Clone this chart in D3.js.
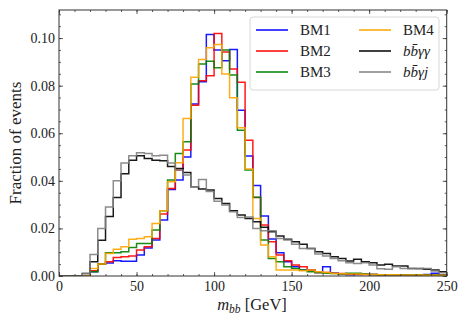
<!DOCTYPE html>
<html>
<head>
<meta charset="utf-8">
<script src="https://cdn.jsdelivr.net/npm/d3@7"></script>
<style>
  body { margin: 0; background: #fff; }
  text { font-family: "Liberation Serif", "DejaVu Serif", serif; fill: #222; }
</style>
</head>
<body>
<div class="main"></div>
<script>
// bins of 5 GeV from 0 to 250
const binLow = d3.range(0, 250, 5);

const bm1 = [0, 0, 0, 0, 0.0018, 0.005, 0.0055, 0.0064, 0.0062, 0.0062,
  0.0088, 0.0118, 0.0151, 0.0235, 0.0364, 0.0403, 0.050, 0.0723, 0.0816, 0.1015,
  0.095, 0.0905, 0.0952, 0.0697, 0.0504, 0.038, 0.0252, 0.0156, 0.0098, 0.006,
  0.0039, 0.0025, 0.0025, 0.0015, 0.0039, 0.0012, 0.0008, 0.0005, 0.0006, 0.0008,
  0.0006, 0.0005, 0.0005, 0.0004, 0.0005, 0.0004, 0.0005, 0.0006, 0.0012, 0.0005];
const bm2 = [0, 0, 0, 0, 0.0022, 0.005, 0.006, 0.0078, 0.0081, 0.0084,
  0.0109, 0.0123, 0.0158, 0.0261, 0.0368, 0.0445, 0.053, 0.0718, 0.0821, 0.0842,
  0.1019, 0.0942, 0.087, 0.0814, 0.0571, 0.033, 0.0214, 0.0144, 0.0088, 0.0064,
  0.0046, 0.0039, 0.0025, 0.0015, 0.0015, 0.0012, 0.001, 0.0008, 0.0007, 0.0006,
  0.0006, 0.0005, 0.0005, 0.0005, 0.0004, 0.0004, 0.0004, 0.0004, 0.0003, 0.0003];
const bm3 = [0, 0, 0, 0, 0.0018, 0.005, 0.0098, 0.0098, 0.0102, 0.012,
  0.0137, 0.0137, 0.0193, 0.0274, 0.0403, 0.0515, 0.0564, 0.0807, 0.0891, 0.0903,
  0.0875, 0.095, 0.0845, 0.0613, 0.0445, 0.0331, 0.0151, 0.0074, 0.006, 0.0039,
  0.0032, 0.0025, 0.0018, 0.0015, 0.0012, 0.001, 0.0008, 0.0012, 0.0012, 0.0008,
  0.0006, 0.0005, 0.0005, 0.0005, 0.0004, 0.0004, 0.0005, 0.0004, 0.0004, 0.0003];
const bm4 = [0, 0, 0, 0, 0.0032, 0.005, 0.0095, 0.0112, 0.0123, 0.0154,
  0.0158, 0.0165, 0.0221, 0.0274, 0.0396, 0.0476, 0.0662, 0.0835, 0.091, 0.0959,
  0.0973, 0.0849, 0.0749, 0.0623, 0.045, 0.0242, 0.013, 0.0081, 0.0025, 0.0025,
  0.0025, 0.0022, 0.0025, 0.0018, 0.0015, 0.001, 0.0009, 0.0008, 0.0008, 0.0007,
  0.0006, 0.0005, 0.0005, 0.0005, 0.0004, 0.0004, 0.0004, 0.0003, 0.0003, 0.0003];
const bbaa = [0, 0, 0, 0.001, 0.006, 0.015, 0.025, 0.033, 0.043, 0.0487,
  0.0505, 0.0494, 0.0487, 0.0484, 0.046, 0.0452, 0.0435, 0.0375, 0.0366, 0.0361,
  0.0326, 0.0305, 0.0274, 0.0256, 0.0242, 0.0228, 0.0205, 0.0186, 0.0168, 0.0154,
  0.0144, 0.0133, 0.0116, 0.0102, 0.0095, 0.0081, 0.0074, 0.0063, 0.007, 0.006,
  0.0056, 0.0046, 0.0049, 0.0042, 0.0042, 0.0032, 0.0032, 0.0028, 0.0025, 0.0018];
const bbaj = [0, 0, 0, 0.001, 0.009, 0.020, 0.029, 0.040, 0.0475, 0.0505,
  0.0518, 0.0515, 0.0505, 0.0508, 0.0475, 0.0445, 0.0425, 0.0375, 0.0406, 0.0355,
  0.0314, 0.0298, 0.027, 0.0246, 0.0248, 0.020, 0.019, 0.019, 0.0158, 0.0151,
  0.0133, 0.0116, 0.0116, 0.0092, 0.0084, 0.0074, 0.0064, 0.0056, 0.0053, 0.0056,
  0.0046, 0.003, 0.0028, 0.0039, 0.0032, 0.0032, 0.003, 0.0032, 0.0021, 0.0014];

const seriesNames = ["BM1", "BM2", "BM3", "BM4", "bbaa", "bbaj"];
const seriesColors = ["#0000ff", "#ff0000", "#008000", "#ffa500", "#000000", "#808080"];
const seriesValues = [bm1, bm2, bm3, bm4, bbaa, bbaj];

const xTicks = [0, 50, 100, 150, 200, 250];
const yTicks = [0, 0.02, 0.04, 0.06, 0.08, 0.10];

const width = 468, height = 325;
const plotLeft = 59, plotRight = 446.7, plotTop = 10, plotBottom = 276;

const svg = d3.select(".main").append("svg")
  .attr("width", width)
  .attr("height", height);

const x = d3.scaleLinear().domain([0, 250]).range([plotLeft, plotRight]);
const y = d3.scaleLinear().domain([0, 0.1118]).range([plotBottom, plotTop]);

svg.append("defs").append("clipPath").attr("id", "plot-clip")
  .append("rect")
  .attr("x", plotLeft).attr("y", plotTop)
  .attr("width", plotRight - plotLeft).attr("height", plotBottom - plotTop);

// step outline like matplotlib histtype='step'
function stepPoints(vals) {
  let pts = [[0, 0]];
  vals.forEach((v, i) => {
    pts.push([binLow[i], v]);
    pts.push([binLow[i] + 5, v]);
  });
  pts.push([250, 0]);
  return pts;
}

const line = d3.line()
  .x(d => x(d[0]))
  .y(d => y(d[1]));

const plot = svg.append("g").attr("clip-path", "url(#plot-clip)");

seriesValues.forEach((vals, i) => {
  plot.append("path")
    .attr("d", line(stepPoints(vals)))
    .attr("fill", "none")
    .attr("stroke", seriesColors[i])
    .attr("stroke-width", 1.5)
    .attr("stroke-opacity", 0.9);
});

// axes with inward ticks on all sides
const axisColor = "#333";
function styleAxis(g) {
  g.select(".domain").remove();
  g.selectAll("line").attr("stroke", axisColor).attr("stroke-width", 0.8);
  g.selectAll("text").attr("font-size", 14).attr("fill", "#222")
    .attr("font-family", "Liberation Serif, serif");
}

const xMinor = d3.range(0, 251, 10);
const yMinor = d3.range(0, 0.111, 0.005);

svg.append("g").attr("transform", `translate(0,${plotBottom})`)
  .call(d3.axisBottom(x).tickValues(xTicks).tickSize(-4).tickPadding(5).tickFormat(d3.format("d")))
  .call(styleAxis);
svg.append("g").attr("transform", `translate(0,${plotBottom})`)
  .call(d3.axisBottom(x).tickValues(xMinor).tickSize(-2).tickFormat(""))
  .call(styleAxis);
svg.append("g").attr("transform", `translate(0,${plotTop})`)
  .call(d3.axisTop(x).tickValues(xTicks).tickSize(-4).tickFormat(""))
  .call(styleAxis);
svg.append("g").attr("transform", `translate(0,${plotTop})`)
  .call(d3.axisTop(x).tickValues(xMinor).tickSize(-2).tickFormat(""))
  .call(styleAxis);

svg.append("g").attr("transform", `translate(${plotLeft},0)`)
  .call(d3.axisLeft(y).tickValues(yTicks).tickSize(-4).tickPadding(4).tickFormat(d3.format(".2f")))
  .call(styleAxis);
svg.append("g").attr("transform", `translate(${plotLeft},0)`)
  .call(d3.axisLeft(y).tickValues(yMinor).tickSize(-2).tickFormat(""))
  .call(styleAxis);
svg.append("g").attr("transform", `translate(${plotRight},0)`)
  .call(d3.axisRight(y).tickValues(yTicks).tickSize(-4).tickFormat(""))
  .call(styleAxis);
svg.append("g").attr("transform", `translate(${plotRight},0)`)
  .call(d3.axisRight(y).tickValues(yMinor).tickSize(-2).tickFormat(""))
  .call(styleAxis);

svg.append("rect")
  .attr("x", plotLeft).attr("y", plotTop)
  .attr("width", plotRight - plotLeft).attr("height", plotBottom - plotTop)
  .attr("fill", "none")
  .attr("stroke", axisColor)
  .attr("stroke-width", 1);

// axis labels
const xLabel = svg.append("text")
  .attr("x", 252).attr("y", 310)
  .attr("text-anchor", "middle")
  .attr("font-size", 16.5);
xLabel.append("tspan").attr("font-style", "italic").text("m");
xLabel.append("tspan").attr("font-style", "italic").attr("font-size", 11.5).attr("dy", 3).text("bb");
xLabel.append("tspan").attr("dy", -3).text(" [GeV]");

svg.append("text")
  .attr("transform", `translate(21,${(plotTop + plotBottom) / 2}) rotate(-90)`)
  .attr("text-anchor", "middle")
  .attr("font-size", 17)
  .text("Fraction of events");

// legend
const legend = svg.append("g");
legend.append("rect")
  .attr("x", 250).attr("y", 17)
  .attr("width", 189).attr("height", 73)
  .attr("rx", 3)
  .attr("fill", "#fff").attr("fill-opacity", 0.8)
  .attr("stroke", "#d8d8d8");

const legendPos = [
  [256, 30], [256, 51], [256, 72],
  [359, 30], [359, 51], [359, 72]
];

seriesNames.forEach((name, i) => {
  const [lx, ly] = legendPos[i];
  legend.append("line")
    .attr("x1", lx).attr("x2", lx + 32)
    .attr("y1", ly).attr("y2", ly)
    .attr("stroke", seriesColors[i])
    .attr("stroke-width", 1.5);
  const t = legend.append("text")
    .attr("x", lx + 44).attr("y", ly + 5)
    .attr("font-size", 15);
  if (name.startsWith("BM")) {
    t.text(name);
  } else {
    t.append("tspan").attr("font-style", "italic").text("b");
    t.append("tspan").attr("font-style", "italic").text("b\u0304");
    t.append("tspan").attr("font-style", "italic").text(name === "bbaa" ? "γγ" : "γj");
  }
});
</script>
</body>
</html>
